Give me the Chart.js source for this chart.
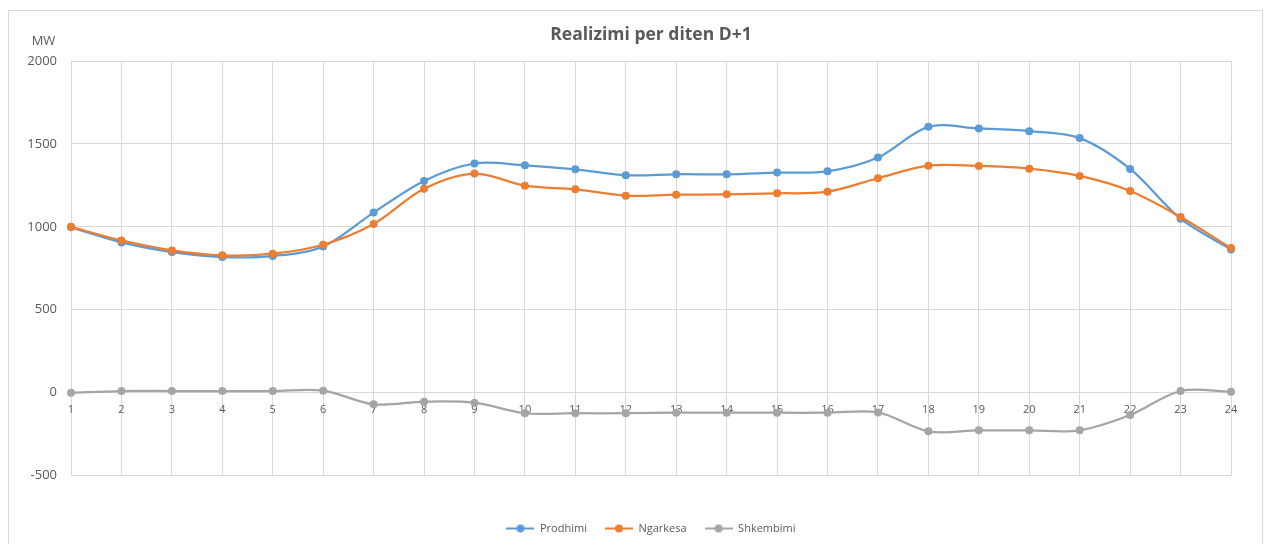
<!DOCTYPE html>
<html>
<head>
<meta charset="utf-8">
<script src="https://cdn.jsdelivr.net/npm/chart.js@4.4.1/dist/chart.umd.min.js"></script>
<style>
  html, body { margin: 0; padding: 0; background: #fff; }
  #wrap { width: 1264px; height: 544px; position: relative; }
</style>
</head>
<body>
<div id="wrap"><canvas id="chart"></canvas></div>
<script>
const hours = ['1','2','3','4','5','6','7','8','9','10','11','12','13','14','15','16','17','18','19','20','21','22','23','24'];
const prodhimi = [997, 906, 848, 818, 824, 882, 1086, 1277, 1382, 1371, 1347, 1311, 1317, 1317, 1327, 1335, 1418, 1603, 1593, 1577, 1535, 1349, 1049, 864];
const ngarkesa = [1000, 918, 858, 828, 838, 892, 1017, 1229, 1321, 1248, 1226, 1188, 1194, 1196, 1202, 1212, 1293, 1369, 1367, 1351, 1307, 1216, 1059, 872];
const shkembimi = [0, 10, 10, 10, 10, 12, -70, -54, -60, -124, -124, -124, -121, -121, -121, -121, -119, -233, -227, -227, -227, -135, 10, 6];
const yTicks = [-500, 0, 500, 1000, 1500, 2000];

const grey = '#595959';
const gridColor = '#d9d9d9';
Chart.defaults.font.family = "'Open Sans', sans-serif";
Chart.defaults.color = grey;

// little line-with-dot mark for the legend
const legendMark = color => {
  const c = document.createElement('canvas');
  c.width = 28; c.height = 10;
  const g = c.getContext('2d');
  g.strokeStyle = color; g.lineWidth = 2;
  g.beginPath(); g.moveTo(0, 5); g.lineTo(28, 5); g.stroke();
  g.fillStyle = color;
  g.beginPath(); g.arc(14, 5, 4, 0, Math.PI * 2); g.fill();
  return c;
};

const frame = {
  id: 'frame',
  beforeDraw(chart) {
    const ctx = chart.ctx;
    ctx.save();
    ctx.strokeStyle = gridColor;
    ctx.lineWidth = 1;
    ctx.strokeRect(8.5, 10.5, 1254, 540);
    ctx.fillStyle = grey;
    ctx.font = "13px 'Open Sans'";
    ctx.textAlign = 'center';
    ctx.textBaseline = 'middle';
    ctx.fillText('MW', 43.5, 41);
    ctx.restore();
  }
};

const series = (label, data, color, order) => ({
  label, data, order,
  borderColor: color,
  backgroundColor: color,
  borderWidth: 2.25,
  pointRadius: 4,
  pointBorderWidth: 0,
  pointHoverRadius: 4,
  tension: 0.33,
  fill: false
});

new Chart(document.getElementById('chart'), {
  type: 'line',
  data: {
    labels: hours,
    datasets: [
      series('Prodhimi', prodhimi, '#5b9bd5', 3),
      series('Ngarkesa', ngarkesa, '#ed7d31', 2),
      series('Shkembimi', shkembimi, '#a5a5a5', 1)
    ]
  },
  options: {
    responsive: true,
    maintainAspectRatio: false,
    animation: false,
    layout: { padding: { left: 0, right: 33, top: 0, bottom: 0 } },
    plugins: {
      title: {
        display: true,
        fullSize: false,
        text: 'Realizimi per diten D+1',
        color: grey,
        font: { size: 17.5, weight: 'bold' },
        padding: { top: 24.5, bottom: 15.5 }
      },
      legend: {
        position: 'bottom',
        fullSize: false,
        title: { display: true, text: '', padding: { top: 15, bottom: 0 }, font: { size: 12 } },
        labels: {
          usePointStyle: true,
          pointStyleWidth: 28,
          padding: 18,
          color: grey,
          font: { size: 11 },
          generateLabels: chart => chart.data.datasets.map((ds, i) => ({
            text: ds.label,
            pointStyle: legendMark(ds.borderColor),
            fillStyle: ds.borderColor,
            strokeStyle: ds.borderColor,
            lineWidth: 0,
            hidden: !chart.isDatasetVisible(i),
            datasetIndex: i,
            fontColor: grey
          }))
        }
      },
      tooltip: { enabled: false }
    },
    scales: {
      x: {
        position: { y: 0 },
        offset: false,
        grid: { color: gridColor, drawTicks: false },
        border: { display: false },
        ticks: { color: grey, font: { size: 11 }, padding: 11, maxRotation: 0, autoSkip: false }
      },
      y: {
        min: -500,
        max: 2000,
        afterFit: s => { s.width = 71; },
        afterBuildTicks: s => { s.ticks = yTicks.map(v => ({ value: v })); },
        grid: { color: gridColor, drawTicks: false },
        border: { display: false },
        ticks: { color: grey, font: { size: 13 }, padding: 14, callback: v => String(v) }
      }
    }
  },
  plugins: [frame]
});
</script>
</body>
</html>
